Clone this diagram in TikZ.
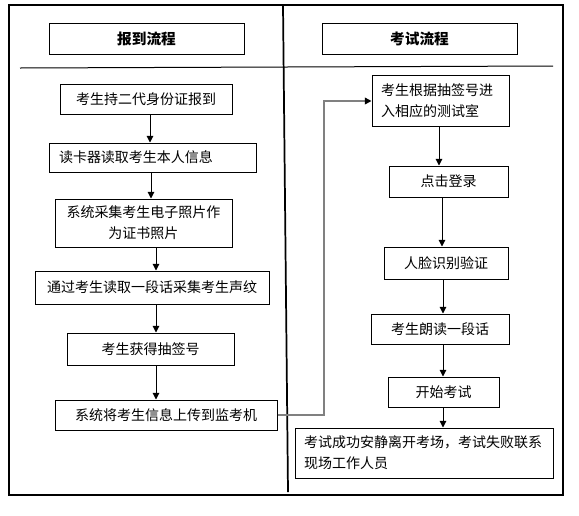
\documentclass[tikz,border=0pt]{standalone}
\usepackage{fontspec}
\setmainfont{Noto Sans CJK SC}
\usetikzlibrary{arrows.meta}
\begin{document}
\begin{tikzpicture}[x=0.75pt,y=-0.75pt,
  box/.style={draw, line width=0.75pt, inner sep=0pt, font=\fontsize{10.5pt}{15.75pt}\selectfont},
  head/.style={draw, line width=0.75pt, inner sep=0pt, font=\fontsize{11pt}{13pt}\selectfont\bfseries},
  arr/.style={line width=0.75pt, -{Triangle[length=5pt,width=5pt]}},
  link/.style={draw=gray, line width=1.1pt, -{Triangle[length=5pt,width=5pt,black]}},
  frame/.style={line width=0.9pt}]
\useasboundingbox (0,0) rectangle (579,515);

% frame and dividers
\draw[frame] (9,5) rectangle (563,495);
\draw[line width=1.3pt] (283,5) -- (288,492);
\draw[line width=0.75pt] (20,68) -- (553,66);

% headers
\node[head, minimum width=195*0.75pt, minimum height=31*0.75pt] (h1) at (146.5,38.5) {报到流程};
\node[head, minimum width=195*0.75pt, minimum height=31*0.75pt] (h2) at (419.5,38.5) {考试流程};

% left column
\node[box, minimum width=172*0.75pt, minimum height=30*0.75pt] (L1) at (146,99) {考生持二代身份证报到};
\node[box, minimum width=207*0.75pt, minimum height=29*0.75pt, text width=187*0.75pt, align=left] (L2) at (152.5,157.5) {读卡器读取考生本人信息};
\node[box, minimum width=177*0.75pt, minimum height=48*0.75pt, align=center] (L3) at (143.5,223) {系统采集考生电子照片作\\为证书照片};
\node[box, minimum width=234*0.75pt, minimum height=33*0.75pt] (L4) at (152,287.5) {通过考生读取一段话采集考生声纹};
\node[box, minimum width=167*0.75pt, minimum height=32*0.75pt] (L5) at (150.5,349) {考生获得抽签号};
\node[box, minimum width=222*0.75pt, minimum height=30*0.75pt] (L6) at (166,415) {系统将考生信息上传到监考机};

% right column
\node[box, minimum width=137*0.75pt, minimum height=51*0.75pt, text width=119*0.75pt, align=left] (R1) at (440.5,100.5) {考生根据抽签号进\\入相应的测试室};
\node[box, minimum width=119*0.75pt, minimum height=31*0.75pt] (R2) at (448.5,181.5) {点击登录};
\node[box, minimum width=124*0.75pt, minimum height=32*0.75pt] (R3) at (446,263) {人脸识别验证};
\node[box, minimum width=138*0.75pt, minimum height=30*0.75pt] (R4) at (440,329) {考生朗读一段话};
\node[box, minimum width=111*0.75pt, minimum height=30*0.75pt] (R5) at (443.5,392) {开始考试};
\node[box, minimum width=258*0.75pt, minimum height=50*0.75pt, text width=240*0.75pt, align=left] (R6) at (424,453) {考试成功安静离开考场，考试失败联系\\现场工作人员};

% arrow columns
\coordinate (c1) at (150,0);
\coordinate (c2) at (151,0);
\coordinate (c3) at (156,0);
\coordinate (d1) at (439,0);
\coordinate (d2) at (442,0);
\coordinate (d3) at (443,0);
\coordinate (bend1) at (324,415);
\coordinate (bend2) at (324,101);

% left arrows
\draw[arr] (L1.south -| c1) -- (L2.north -| c1);
\draw[arr] (L2.south -| c2) -- (L3.north -| c2);
\draw[arr] (L3.south -| c3) -- (L4.north -| c3);
\draw[arr] (L4.south -| c3) -- (L5.north -| c3);
\draw[arr] (L5.south -| c3) -- (L6.north -| c3);

% right arrows
\draw[arr] (R1.south -| d1) -- (R2.north -| d1);
\draw[arr] (R2.south -| d2) -- (R3.north -| d2);
\draw[arr] (R3.south -| d3) -- (R4.north -| d3);
\draw[arr] (R4.south -| d3) -- (R5.north -| d3);
\draw[arr] (R5.south -| d3) -- (R6.north -| d3);

% cross link
\draw[link] (L6.east) -- (bend1) -- (bend2) -- (R1.west |- bend2);
\end{tikzpicture}
\end{document}
